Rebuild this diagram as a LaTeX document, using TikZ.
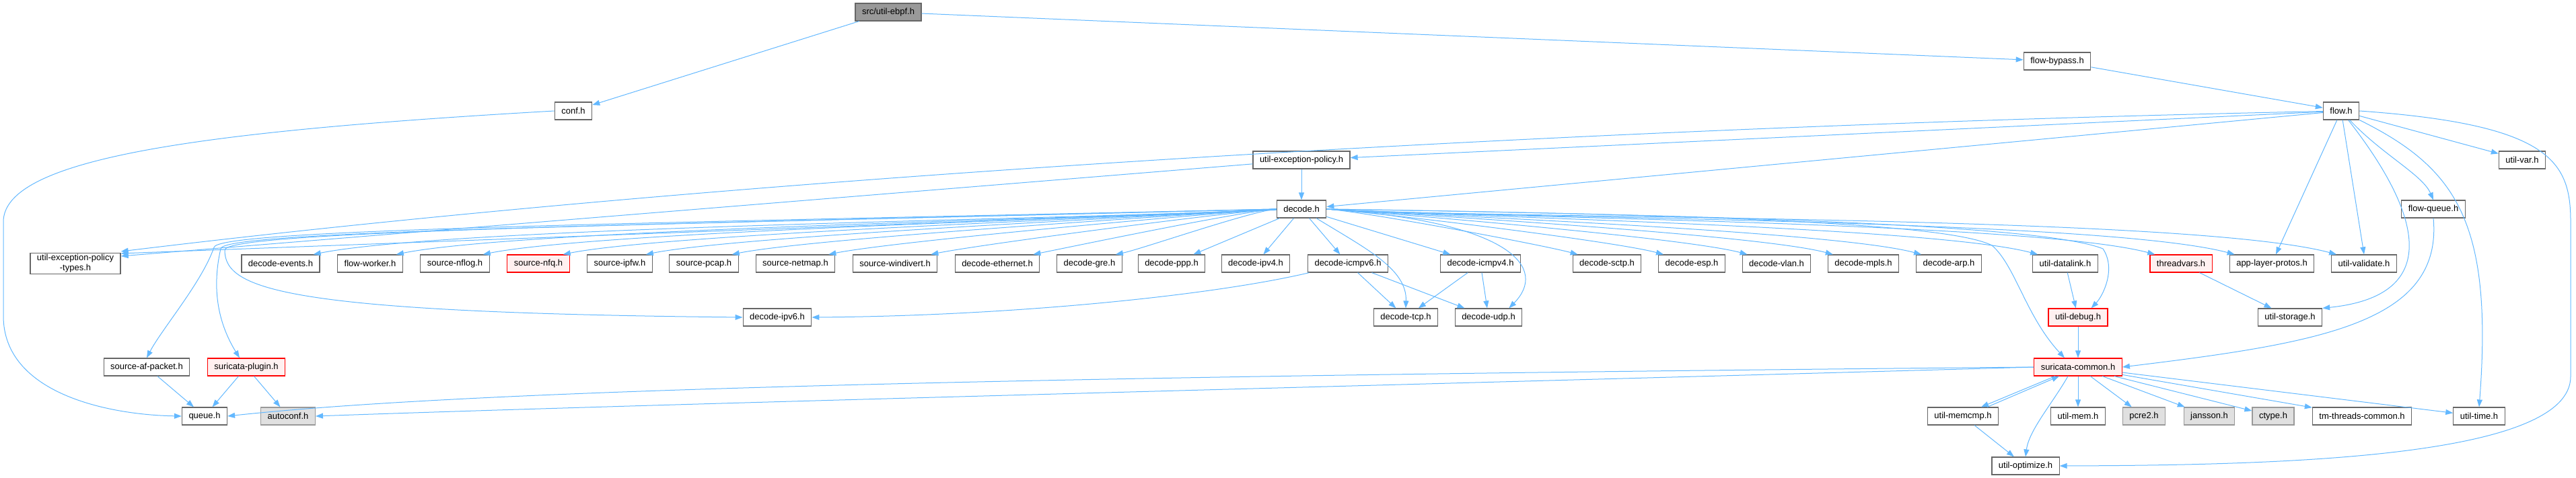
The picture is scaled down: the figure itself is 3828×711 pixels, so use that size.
\documentclass[tikz,border=0pt]{standalone}
\usepackage{fontspec}
\setmainfont{Liberation Sans}
\usetikzlibrary{arrows.meta, calc}
\definecolor{incblue}{HTML}{63B8FF}
\definecolor{incgrey}{HTML}{666666}
\definecolor{incred}{HTML}{FF0000}
\definecolor{incpink}{HTML}{FFF0F0}
\definecolor{incsys}{HTML}{E0E0E0}
\definecolor{incsysline}{HTML}{999999}
\definecolor{incroot}{HTML}{999999}

\begin{document}
\begin{tikzpicture}[x=1pt, y=1pt,
        box/.style={draw=incgrey, fill=white, line width=1.2pt, minimum height=26pt, inner xsep=10pt, inner ysep=2pt, font=\fontsize{13}{15}\selectfont},
        rootbox/.style={box, fill=incroot},
        redbox/.style={box, draw=incred, fill=incpink},
        sysbox/.style={box, draw=incsysline, fill=incsys},
        inc/.style={draw=incblue, line width=1pt, -{Triangle[length=11pt, width=8pt]}}
    ]
      \useasboundingbox (0,0) rectangle (3828,-711);

      % Upper part
      \node[rootbox] (ebpf) at (1320,-18) {src/util-ebpf.h};
      \node[box] (conf) at (852,-165) {conf.h};
      \node[box] (bypass) at (3057,-91) {flow-bypass.h};
      \node[box] (flow) at (3479,-165) {flow.h};
      \node[box] (uep) at (1934,-238) {util-exception-policy.h};
      \node[box] (utilvar) at (3748,-238) {util-var.h};
      \node[box] (decode) at (1934,-311) {decode.h};
      \node[box] (flowq) at (3616,-311) {flow-queue.h};

      % Row below decode.h
      \node[box, align=center] (uept) at (112,-392) {util-exception-policy\\-types.h};
      \node[box] (events) at (417,-392) {decode-events.h};
      \node[box] (worker) at (550,-392) {flow-worker.h};
      \node[box] (nflog) at (676,-392) {source-nflog.h};
      \node[redbox] (nfq) at (800,-392) {source-nfq.h};
      \node[box] (ipfw) at (921,-392) {source-ipfw.h};
      \node[box] (pcap) at (1046,-392) {source-pcap.h};
      \node[box] (netmap) at (1182,-392) {source-netmap.h};
      \node[box] (windivert) at (1330,-392) {source-windivert.h};
      \node[box] (ether) at (1482,-392) {decode-ethernet.h};
      \node[box] (gre) at (1619,-392) {decode-gre.h};
      \node[box] (ppp) at (1741,-392) {decode-ppp.h};
      \node[box] (ipv4) at (1866,-392) {decode-ipv4.h};
      \node[box] (icmp6) at (2003,-392) {decode-icmpv6.h};
      \node[box] (icmp4) at (2200,-392) {decode-icmpv4.h};
      \node[box] (sctp) at (2388,-392) {decode-sctp.h};
      \node[box] (esp) at (2514,-392) {decode-esp.h};
      \node[box] (vlan) at (2640,-392) {decode-vlan.h};
      \node[box] (mpls) at (2769,-392) {decode-mpls.h};
      \node[box] (arp) at (2896,-392) {decode-arp.h};
      \node[box] (datalink) at (3069,-392) {util-datalink.h};
      \node[redbox] (threadvars) at (3241,-392) {threadvars.h};
      \node[box] (alproto) at (3376,-392) {app-layer-protos.h};
      \node[box] (validate) at (3513,-392) {util-validate.h};

      % Lower part
      \node[box] (ipv6) at (1155,-472) {decode-ipv6.h};
      \node[box] (tcp) at (2089,-472) {decode-tcp.h};
      \node[box] (udp) at (2212,-472) {decode-udp.h};
      \node[redbox] (debug) at (3088,-472) {util-debug.h};
      \node[box] (storage) at (3403,-472) {util-storage.h};
      \node[box] (afpacket) at (218,-546) {source-af-packet.h};
      \node[redbox] (plugin) at (366,-546) {suricata-plugin.h};
      \node[redbox] (common) at (3088,-546) {suricata-common.h};
      \node[box] (queue) at (304,-619) {queue.h};
      \node[sysbox] (autoconf) at (428,-619) {autoconf.h};
      \node[box] (memcmp) at (2917,-619) {util-memcmp.h};
      \node[box] (mem) at (3088,-619) {util-mem.h};
      \node[sysbox] (pcre) at (3186,-619) {pcre2.h};
      \node[sysbox] (jansson) at (3283,-619) {jansson.h};
      \node[sysbox] (ctype) at (3378,-619) {ctype.h};
      \node[box] (tmthreads) at (3510,-619) {tm-threads-common.h};
      \node[box] (utime) at (3684,-619) {util-time.h};
      \node[box] (optimize) at (3010,-693) {util-optimize.h};

      % Includes of the file and of flow.h
      \draw[inc] (ebpf) -- (conf);
      \draw[inc] (ebpf) -- (bypass);
      \draw[inc] (bypass) -- (flow);
      \draw[inc] (conf.west) .. controls (300,-195) and (5,-235) .. (5,-330) -- (5,-470) .. controls (5,-585) and (160,-617) .. (queue.west);
      \draw[inc] (flow) -- (uep);
      \draw[inc] (flow) -- (decode);
      \draw[inc] (flow) .. controls (2500,-185) and (1200,-250) .. ([yshift=18pt]uept.east);
      \draw[inc] (flow) -- (utilvar);
      \draw[inc] (flow) .. controls (3540,-230) and (3600,-260) .. (flowq.north);
      \draw[inc] (flow) -- ([xshift=6pt]alproto.north);
      \draw[inc] (flow) -- (validate.north);
      \draw[inc] (flow) .. controls (3600,-320) and (3630,-440) .. (storage.north east);
      \draw[inc] (flow) .. controls (3650,-250) and (3705,-330) .. (utime.north);
      \draw[inc] (flow.east) .. controls (3790,-185) and (3820,-240) .. (3820,-330) -- (3820,-560) .. controls (3820,-680) and (3400,-692) .. (optimize.east);
      \draw[inc] (uep) -- ([yshift=11pt]uept.east);
      \draw[inc] (uep) -- (decode);

      % Includes of decode.h
      \draw[inc] (decode) -- ([yshift=15pt]uept.east);
      \foreach \t in {events, worker, nflog, nfq, ipfw, pcap, netmap, windivert, ether, gre}
        \draw[inc] let \p1=(decode.west), \p2=([xshift=-10pt]\t.north east) in
          (\p1) .. controls (\x1-0.15*\x1+0.15*\x2, \y1-0.01*\x1+0.01*\x2) and (\x2+0.15*\x1-0.15*\x2, \y2+0.03*\x1-0.03*\x2) .. (\p2);
      \foreach \t in {ppp, ipv4, icmp6, icmp4}
        \draw[inc] (decode) -- (\t);
      \foreach \t in {sctp, esp, vlan, mpls, arp, datalink, threadvars, alproto, validate}
        \draw[inc] let \p1=(decode.east), \p2=([xshift=8pt]\t.north west) in
          (\p1) .. controls (\x1+0.15*\x2-0.15*\x1, \y1-0.01*\x2+0.01*\x1) and (\x2-0.15*\x2+0.15*\x1, \y2+0.04*\x2-0.04*\x1) .. (\p2);
      \draw[inc] (decode.west) .. controls (900,-335) and (334,-345) .. (334,-372) .. controls (334,-430) and (420,-465) .. (ipv6.west);
      \draw[inc] (decode.west) .. controls (900,-333) and (322,-342) .. (318,-368) .. controls (300,-420) and (240,-490) .. (afpacket.north);
      \draw[inc] (decode.west) .. controls (900,-336) and (330,-344) .. (328,-370) .. controls (312,-440) and (330,-490) .. ([xshift=-10pt]plugin.north);
      \draw[inc] (decode) .. controls (2030,-370) and (2091,-400) .. (tcp.north);
      \draw[inc] (decode.east) .. controls (2250,-330) and (2300,-400) .. ([xshift=-20pt]udp.north east);
      \draw[inc] (decode.east) .. controls (2700,-322) and (3050,-340) .. (3125,-370) .. controls (3145,-400) and (3125,-440) .. ([xshift=-25pt]debug.north east);
      \draw[inc] (decode.east) .. controls (2600,-320) and (2900,-335) .. (2960,-365) .. controls (2995,-395) and (3010,-470) .. ([xshift=-20pt]common.north);

      % Decoders and utilities
      \draw[inc] (icmp6) .. controls (1800,-440) and (1500,-470) .. (ipv6.east);
      \draw[inc] (icmp6) -- (tcp);
      \draw[inc] (icmp6) -- (udp);
      \draw[inc] (icmp4) -- (tcp);
      \draw[inc] (icmp4) -- (udp);
      \draw[inc] (datalink) -- (debug);
      \draw[inc] (debug) -- (common);
      \draw[inc] (threadvars) -- (storage);
      \draw[inc] (flowq.south) .. controls (3630,-480) and (3450,-510) .. (common.east);
      \draw[inc] (afpacket) -- (queue);
      \draw[inc] (plugin) -- (queue);
      \draw[inc] (plugin) -- (autoconf);

      % Includes of suricata-common.h
      \draw[inc] (common.west) .. controls (1500,-560) and (700,-580) .. (queue.east);
      \draw[inc] (common.west) .. controls (2000,-575) and (1000,-600) .. (autoconf.east);
      \draw[inc] ([xshift=-34pt]common.south) -- ([xshift=27pt]memcmp.north);
      \draw[inc] ([xshift=36pt]memcmp.north) -- ([xshift=-28pt]common.south);
      \draw[inc] (common) -- (mem);
      \foreach \t in {pcre, jansson, ctype, tmthreads, utime}
        \draw[inc] (common) -- (\t);
      \draw[inc] ([xshift=-15pt]common.south) .. controls (3050,-600) and (3015,-640) .. (optimize.north);
      \draw[inc] (memcmp) -- (optimize);
\end{tikzpicture}
\end{document}
